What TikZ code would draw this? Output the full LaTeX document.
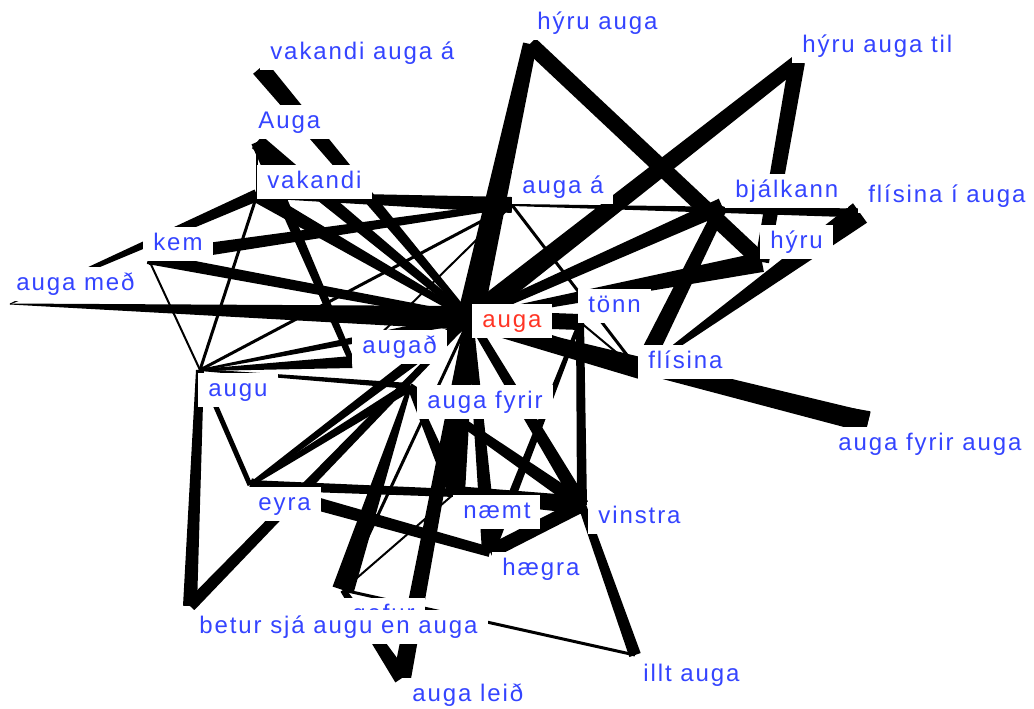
\documentclass[tikz,border=0pt]{standalone}
\usepackage{fontspec}
\usepackage{tikz}
\usetikzlibrary{calc}
\newfontfamily\lblfont[LetterSpace=8]{Liberation Sans}
\definecolor{wblue}{RGB}{52,68,255}
\definecolor{wred}{RGB}{255,52,36}
% tapered edge: from #1 (half width #3) to #2 (half width #4), widths in px
\newcommand{\taper}[4]{%
  \fill[spoke] ($(#1)!#3*0.01cm!90:(#2)$) -- ($(#2)!#4*0.01cm!-90:(#1)$)
    -- ($(#2)!#4*0.01cm!90:(#1)$) -- ($(#1)!#3*0.01cm!-90:(#2)$) -- cycle;}
\tikzset{
  word/.style={fill=white, anchor=base west, inner xsep=0.2cm, inner ysep=0.12cm,
               text height=0.35cm, text depth=0.1cm, text=wblue,
               font=\lblfont\fontsize{13.66pt}{16pt}\selectfont},
  hub/.style={word, text=wred},
  spoke/.style={fill=black},
}

\begin{document}
\begin{tikzpicture}[x=0.02cm, y=-0.02cm]
  \fill[white] (0,0) rectangle (1034,708);
  \useasboundingbox (0,0) rectangle (1034,708);
  % word positions
  \coordinate (vaa) at (260,68);   \coordinate (Auga) at (257,142);
  \coordinate (vak) at (257,195);  \coordinate (kem) at (148,258);
  \coordinate (med) at (10,304);   \coordinate (augu) at (200,370);
  \coordinate (augad) at (352,362); \coordinate (auga) at (470,318);
  \coordinate (afyr) at (410,386); \coordinate (tonn) at (580,322);
  \coordinate (flis) at (640,372); \coordinate (afa) at (868,422);
  \coordinate (bjalk) at (722,206); \coordinate (fia) at (860,213);
  \coordinate (hyru) at (762,262); \coordinate (hya) at (530,44);
  \coordinate (hyat) at (797,62);  \coordinate (aa) at (512,205);
  \coordinate (eyra) at (250,485); \coordinate (naemt) at (455,493);
  \coordinate (vinstra) at (582,505); \coordinate (haegra) at (490,552);
  \coordinate (gefur) at (343,590); \coordinate (betur) at (190,606);
  \coordinate (leid) at (402,678); \coordinate (illt) at (635,655);

  % edges, upper left
  \taper{vaa}{auga}{18}{6} \taper{Auga}{auga}{16}{6}
  \taper{Auga}{vak}{2}{2} \taper{Auga}{augad}{12}{6}
  \taper{vak}{med}{12}{1} \taper{vak}{auga}{15}{6}
  \taper{vak}{aa}{6}{16} \taper{vak}{augu}{3}{3}
  \taper{med}{auga}{1}{24} \taper{kem}{auga}{12}{8}
  \taper{kem}{aa}{14}{6} \taper{kem}{augu}{2}{2}
  % upper right
  \taper{hya}{auga}{14}{26} \taper{hya}{hyru}{16}{16}
  \taper{hyat}{auga}{14}{20} \taper{hyat}{hyru}{16}{14}
  \taper{aa}{fia}{2}{9} \taper{aa}{flis}{3}{3} \taper{aa}{augad}{2}{2}
  \taper{bjalk}{auga}{16}{8} \taper{bjalk}{flis}{12}{18}
  \taper{hyru}{auga}{20}{6} \taper{fia}{flis}{24}{2}
  \taper{tonn}{auga}{16}{16} \taper{tonn}{flis}{2}{2}
  \taper{auga}{flis}{20}{14} \taper{auga}{afa}{4}{20} \taper{flis}{afa}{2}{22}
  % lower half
  \taper{augu}{augad}{2}{12} \taper{augu}{auga}{2}{10}
  \taper{augu}{afyr}{2}{6} \taper{augu}{aa}{3}{3}
  \taper{augu}{betur}{8}{14} \taper{augu}{eyra}{5}{5}
  \taper{auga}{betur}{6}{12}
  \taper{eyra}{afyr}{4}{10} \taper{eyra}{auga}{4}{12}
  \taper{eyra}{naemt}{10}{8} \taper{eyra}{haegra}{14}{10}
  \taper{gefur}{afyr}{22}{4} \taper{gefur}{naemt}{2}{2}
  \taper{gefur}{auga}{3}{3} \taper{gefur}{illt}{3}{3}
  \taper{leid}{auga}{18}{10} \taper{leid}{gefur}{16}{6}
  \taper{auga}{naemt}{10}{20} \taper{auga}{haegra}{6}{16}
  \taper{auga}{vinstra}{8}{14}
  \taper{afyr}{naemt}{6}{14} \taper{afyr}{vinstra}{6}{14}
  \taper{tonn}{vinstra}{8}{10} \taper{tonn}{haegra}{4}{10}
  \taper{naemt}{vinstra}{14}{18} \taper{haegra}{vinstra}{14}{14}
  \taper{vinstra}{illt}{8}{12}

  % labels
  \node[word] (vaa-l) at (260,59) {vakandi auga á};
  \node[word] (Auga-l) at (248,128) {Auga};
  \node[word] (vak-l) at (257,188) {vakandi};
  \node[word] (kem-l) at (143,250) {kem};
  \node[word] (med-l) at (6,290) {auga með};
  \node[word] (augu-l) at (198,396) {augu};
  \node[word] (augad-l) at (352,353) {augað};
  \node[hub] (auga-l) at (472,327) {auga};
  \node[word] (afyr-l) at (417,408) {auga fyrir};
  \node[word] (tonn-l) at (578,312) {tönn};
  \node[word] (flis-l) at (638,368) {flísina};
  \node[word] (afa-l) at (828,450) {auga fyrir auga};
  \node[word] (bjalk-l) at (725,197) {bjálkann};
  \node[word] (fia-l) at (858,202) {flísina í auga};
  \node[word] (hyru-l) at (760,248) {hýru};
  \node[word] (hya-l) at (527,29) {hýru auga};
  \node[word] (hyat-l) at (792,52) {hýru auga til};
  \node[word] (aa-l) at (512,193) {auga á};
  \node[word] (eyra-l) at (248,510) {eyra};
  \node[word] (naemt-l) at (453,518) {næmt};
  \node[word] (vinstra-l) at (588,523) {vinstra};
  \node[word] (haegra-l) at (492,575) {hægra};
  \node[word] (gefur-l) at (342,621) {gefur};
  \node[word] (betur-l) at (189,633) {betur sjá augu en auga};
  \node[word] (leid-l) at (402,701) {auga leið};
  \node[word] (illt-l) at (633,681) {illt auga};
\end{tikzpicture}
\end{document}
